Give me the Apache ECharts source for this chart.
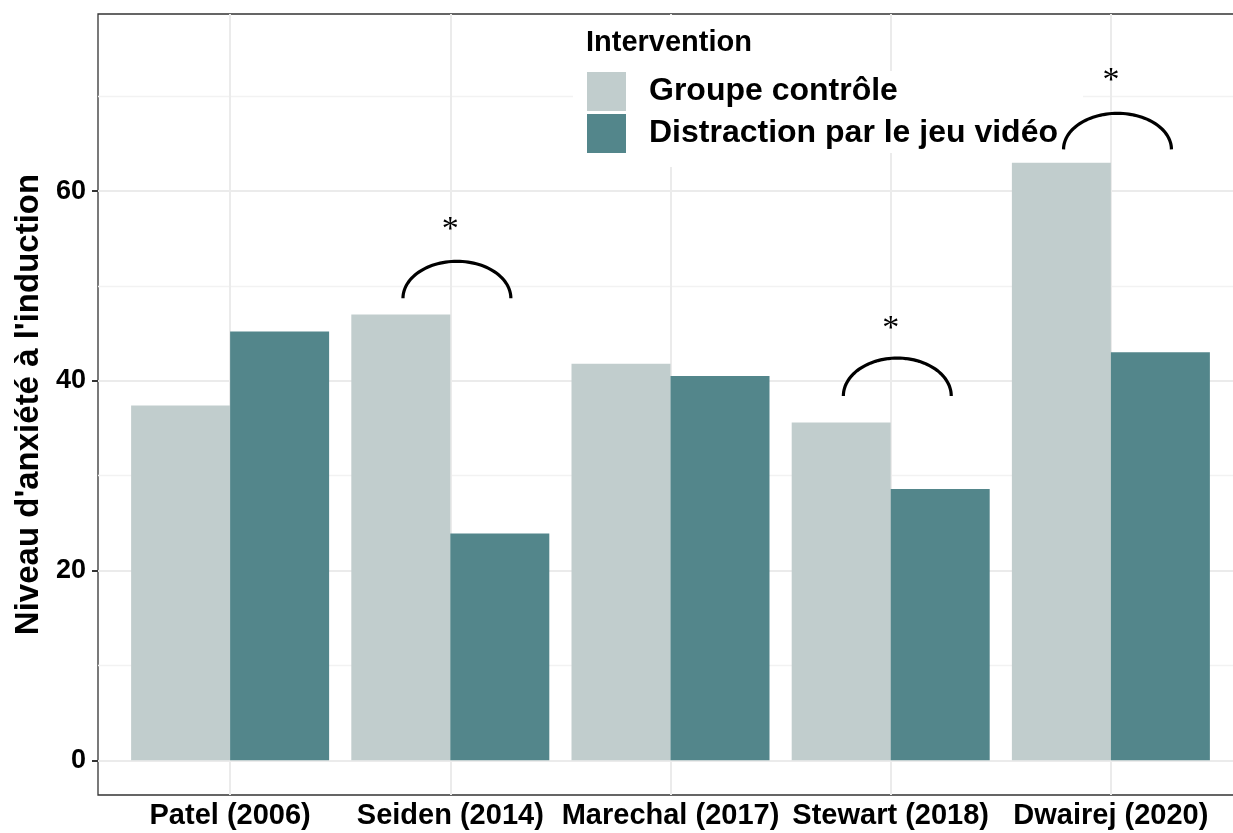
<!DOCTYPE html>
<html>
<head>
<meta charset="utf-8">
<script src="https://cdn.jsdelivr.net/npm/echarts@6/dist/echarts.min.js"></script>
<style>
  html, body { margin: 0; padding: 0; background: #fff; }
  #chart { width: 1233px; height: 833px; }
</style>
</head>
<body>
<div id="chart"></div>
<script>
// data
const studies = ['Patel (2006)', 'Seiden (2014)', 'Marechal (2017)', 'Stewart (2018)', 'Dwairej (2020)'];
const controle = [37.4, 47.0, 41.8, 35.6, 63.0];
const distraction = [45.2, 23.9, 40.5, 28.6, 43.0];
// significance brackets: study position, arc base, arc top, asterisk height
const sigPos = [2, 4, 5];
const sigBase = [48.7, 38.4, 64.4];
const sigTop = [52.6, 42.4, 68.2];
const sigStar = [56.5, 46.1, 72.2];
const yMajor = [0, 20, 40, 60];
const yMinor = [10, 30, 50, 70];

const FONT = '"Liberation Sans", Arial, sans-serif';
const xPos = studies.map((s, i) => i + 1);

var gridLines = [];
yMajor.forEach(v => gridLines.push({ yAxis: v, lineStyle: { color: '#EBEBEB', width: 2, type: 'solid' } }));
yMinor.forEach(v => gridLines.push({ yAxis: v, lineStyle: { color: '#F2F2F2', width: 1.3, type: 'solid' } }));
xPos.forEach(v => gridLines.push({ xAxis: v, lineStyle: { color: '#EBEBEB', width: 2, type: 'solid' } }));

function renderSig(params, api) {
    var x = api.value(0), base = api.value(1), top = api.value(2), star = api.value(3);
    var cx = x + 0.03, hw = 0.245;
    var l = api.coord([cx - hw, base]);
    var r = api.coord([cx + hw, base]);
    var t = api.coord([cx, top]);
    var rx = (r[0] - l[0]) / 2, ry = l[1] - t[1], c = (l[0] + r[0]) / 2;
    var pts = [];
    for (var i = 0; i <= 60; i++) {
        var a = Math.PI * i / 60;
        pts.push([c - rx * Math.cos(a), l[1] - ry * Math.sin(a)]);
    }
    var s = api.coord([x, star]);
    return {
        type: 'group',
        children: [
            { type: 'polyline', shape: { points: pts }, style: { stroke: '#000', lineWidth: 3.2, fill: null } },
            { type: 'text', x: s[0], y: s[1] + 6, style: { text: '*', font: '34px "Liberation Serif", serif', fill: '#000', align: 'center', verticalAlign: 'middle' } }
        ]
    };
}

var chart = echarts.init(document.getElementById('chart'));
chart.setOption({
    backgroundColor: '#fff',
    animation: false,
    grid: {
        left: 98, top: 14, width: 1145, height: 781,
        outerBoundsMode: 'none', containLabel: false,
        show: true, borderColor: '#333', borderWidth: 1.3, backgroundColor: 'transparent'
    },
    legend: {
        orient: 'vertical',
        left: 573, top: 71,
        padding: [1, 25, 0, 14],
        backgroundColor: '#fff',
        itemWidth: 39, itemHeight: 39, itemGap: 3,
        icon: 'rect',
        selectedMode: false,
        data: ['Groupe contrôle', 'Distraction par le jeu vidéo'],
        textStyle: { fontFamily: FONT, fontSize: 32, fontWeight: 'bold', color: '#000', padding: [0, 0, 0, 18], lineHeight: 39 }
    },
    graphic: [
        { type: 'rect', z: 3, shape: { x: 573, y: 15, width: 230, height: 152 }, style: { fill: '#fff' } },
        { type: 'text', z: 4, x: 586, y: 43, style: { text: 'Intervention', font: 'bold 29px ' + FONT, fill: '#000', verticalAlign: 'middle' } }
    ],
    xAxis: {
        type: 'value',
        min: 0.4, max: 5.6,
        splitLine: { show: false },
        axisLine: { show: false },
        axisTick: { show: true, length: 6, customValues: xPos, lineStyle: { color: '#333', width: 2 } },
        axisLabel: {
            customValues: xPos,
            formatter: v => studies[Math.round(v) - 1],
            fontFamily: FONT, fontSize: 29, fontWeight: 'bold', color: '#000', margin: 6
        }
    },
    yAxis: {
        type: 'value',
        min: -3.66, max: 78.67,
        name: "Niveau d'anxiété à l'induction",
        nameLocation: 'middle', nameGap: 50,
        nameTextStyle: { fontFamily: FONT, fontSize: 33, fontWeight: 'bold', color: '#000' },
        splitLine: { show: false },
        axisLine: { show: false },
        axisTick: { show: true, length: 6, customValues: yMajor, lineStyle: { color: '#333', width: 2 } },
        axisLabel: {
            customValues: yMajor,
            fontFamily: FONT, fontSize: 27, fontWeight: 'bold', color: '#000', margin: 12
        }
    },
    series: [
        {
            // gridlines only
            type: 'line',
            data: [],
            silent: true,
            markLine: {
                z: 1, silent: true, symbol: 'none', animation: false,
                label: { show: false },
                emphasis: { disabled: true },
                data: gridLines
            }
        },
        {
            name: 'Groupe contrôle',
            type: 'bar',
            data: controle.map((v, i) => [xPos[i], v]),
            barWidth: 99, barGap: '0%',
            itemStyle: { color: '#C1CDCD' },
            z: 2
        },
        {
            name: 'Distraction par le jeu vidéo',
            type: 'bar',
            data: distraction.map((v, i) => [xPos[i], v]),
            barWidth: 99, barGap: '0%',
            itemStyle: { color: '#53868B' },
            z: 2
        },
        {
            type: 'custom',
            z: 10,
            silent: true,
            clip: false,
            renderItem: renderSig,
            encode: { x: 0, y: [1, 2, 3] },
            data: sigPos.map((p, i) => [p, sigBase[i], sigTop[i], sigStar[i]])
        }
    ]
});
window.addEventListener('resize', () => chart.resize());
</script>
</body>
</html>
